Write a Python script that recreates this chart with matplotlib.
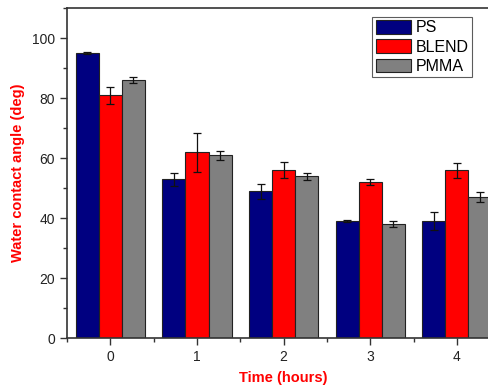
import numpy as np
import matplotlib
matplotlib.use("Agg")
import matplotlib.pyplot as plt
from matplotlib.ticker import MultipleLocator

plt.rcParams['font.family'] = ['Liberation Sans', 'DejaVu Sans']

# data
hours = [0, 1, 2, 3, 4]
series = ["PS", "BLEND", "PMMA"]
ps = [95, 53, 49, 39, 39]
ps_err = [0.4, 2.2, 2.5, 0.4, 3.0]
blend = [81, 62, 56, 52, 56]
blend_err = [2.8, 6.5, 2.7, 1.0, 2.5]
pmma = [86, 61, 54, 38, 47]
pmma_err = [1.1, 1.5, 1.2, 1.0, 1.7]
colors = ["#000080", "#ff0000", "#808080"]

fig = plt.figure(figsize=(4.89, 3.89), dpi=100)
ax = fig.add_axes([0.137, 0.131, 0.886, 0.848])

x = np.arange(len(hours))
w = 0.8 / 3
vals = [ps, blend, pmma]
errs = [ps_err, blend_err, pmma_err]
for i in range(3):
    ax.bar(x + (i - 1) * w, vals[i], width=w, color=colors[i],
           edgecolor="#222222", linewidth=0.8, label=series[i],
           yerr=errs[i], capsize=3,
           error_kw=dict(ecolor="#111111", elinewidth=0.9, capthick=0.9))

ax.set_xlim(-0.5, 4.5)
ax.set_ylim(0, 110)
ax.set_xticks(x)
ax.set_xticklabels([str(h) for h in hours])
ax.xaxis.set_minor_locator(MultipleLocator(0.5))
ax.yaxis.set_major_locator(MultipleLocator(20))
ax.yaxis.set_minor_locator(MultipleLocator(10))
ax.tick_params(which="major", direction="out", length=5, width=1,
               labelsize=10, colors="#333333", labelcolor="#222222")
ax.tick_params(which="minor", direction="out", length=3, width=1, colors="#333333")
for s in ax.spines.values():
    s.set_color("#333333")
    s.set_linewidth(1.2)

ax.set_xlabel("Time (hours)", color="red", fontweight="bold", fontsize=10.5, labelpad=5)
ax.set_ylabel("Water contact angle (deg)", color="red", fontweight="bold", fontsize=10.5, labelpad=5)

leg = ax.legend(loc="upper left", bbox_to_anchor=(0.705, 0.973), fontsize=11.5,
                frameon=True, fancybox=False, edgecolor="#333333",
                handlelength=2.2, handleheight=0.9, handletextpad=0.3,
                borderpad=0.2, labelspacing=0.25, borderaxespad=0)
leg.get_frame().set_linewidth(0.8)

fig.savefig("out.png", dpi=100)
